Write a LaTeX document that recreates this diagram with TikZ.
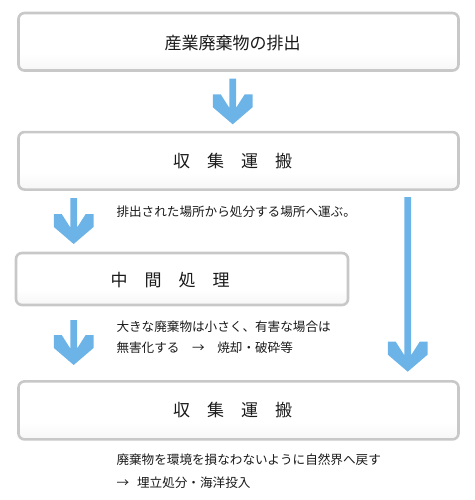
\documentclass[tikz,border=0pt]{standalone}
\usepackage{fontspec}
\newfontfamily\jp{Noto Sans CJK JP}
\definecolor{arrowblue}{HTML}{6CB4E8}
\definecolor{boxgray}{HTML}{C8C8C8}
\definecolor{txt}{HTML}{1A1A1A}
\pgfdeclareverticalshading{boxshade}{100bp}{color(0bp)=(black!9); color(40bp)=(white); color(100bp)=(white)}
\newcommand{\bluearrow}[3]{%
  \fill[arrowblue] ({#1-3.4},#2) -- ({#1+3.4},#2) -- ({#1+3.4},{#3-16.5}) -- ({#1+12},{#3-30}) -- ({#1+19.8},{#3-30}) -- ({#1+19.8},{#3-17}) -- (#1,#3) -- ({#1-19.8},{#3-17}) -- ({#1-19.8},{#3-30}) -- ({#1-12},{#3-30}) -- ({#1-3.4},{#3-16.5}) -- cycle;}
\begin{document}
\begin{tikzpicture}[x=1pt,y=-1pt,
  procbox/.style={draw=boxgray, line width=2.6pt, rounded corners=6pt, shading=boxshade, inner sep=0pt},
  title/.style={font=\jp\fontsize{17}{20}\selectfont, text=txt, inner sep=0pt},
  note/.style={font=\jp\fontsize{12.6}{15}\selectfont, text=txt, inner sep=0pt, anchor=west}]
\useasboundingbox (0,0) rectangle (474,500);
% boxes
\node[procbox, minimum width=440pt, minimum height=57.5pt] (b1) at (238.5,41.8) {};
\node[procbox, minimum width=440pt, minimum height=57.5pt] (b2) at (238.5,160.8) {};
\node[procbox, minimum width=332pt, minimum height=52pt] (b3) at (182,279) {};
\node[procbox, minimum width=440pt, minimum height=58pt] (b4) at (238.5,410.4) {};
% titles
\node[title] (t1) at (232.5,43) {産業廃棄物の排出};
\node[title] (t2) at (232.5,161) {収　集　運　搬};
\node[title] (t3) at (170,280) {中　間　処　理};
\node[title] (t4) at (232.5,410) {収　集　運　搬};
% arrows
\bluearrow{232.7}{78.7}{124.3}
\bluearrow{73.7}{198}{244}
\bluearrow{407.7}{197}{371.7}
\bluearrow{73.7}{320}{365}
% notes
\node[note] (n1) at (116.3,212) {排出された場所から処分する場所へ運ぶ。};
\node[note] (n2) at (116.3,327) {大きな廃棄物は小さく、有害な場合は};
\node[note] (n3) at (116.3,348) {無害化する　→　焼却・破砕等};
\node[note] (n4) at (116.3,460) {廃棄物を環境を損なわないように自然界へ戻す};
\node[note] (n5) at (116.3,483) {→\hspace{8pt}埋立処分・海洋投入};
\end{tikzpicture}
\end{document}
